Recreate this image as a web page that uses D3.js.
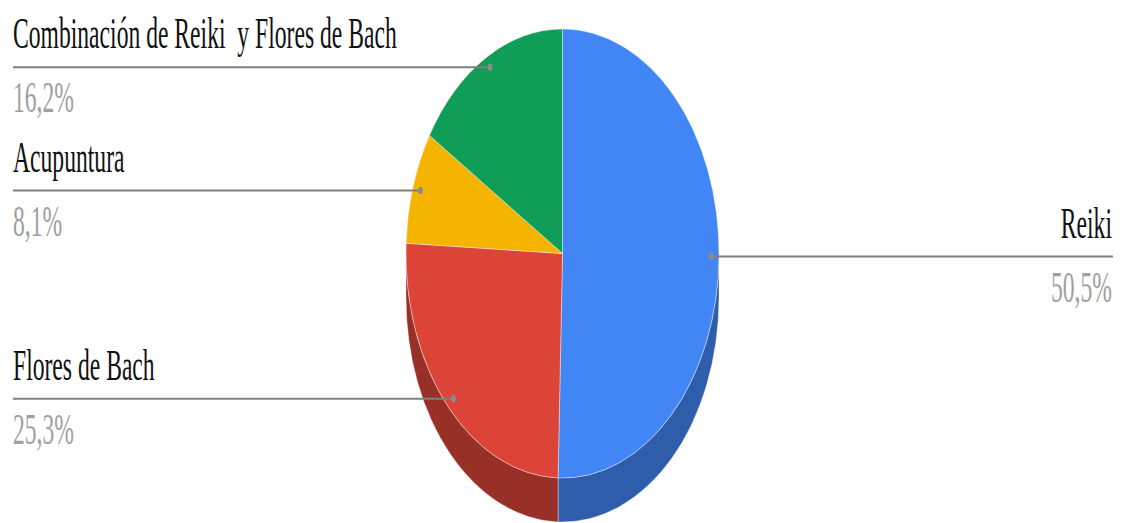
<!DOCTYPE html>
<html><head><meta charset="utf-8">
<script src="https://cdn.jsdelivr.net/npm/d3@7"></script>
<style>html,body{margin:0;padding:0;background:#fff;}svg{display:block;}</style>
</head><body>
<svg id="chart" width="1123" height="523"></svg>
<script>
const categories = ["Reiki", "Flores de Bach", "Acupuntura", "Combinación de Reiki  y Flores de Bach"];
const values = [50.5, 25.3, 8.1, 16.2];
const percentLabels = ["50,5%", "25,3%", "8,1%", "16,2%"];
const colors = ["#4285f4", "#db4437", "#f4b400", "#0f9d58"];

const W = 1123, H = 523;
const cx = 562.5, cy = 253.5, rx = 156.5, ry = 224.5, depth = 44;
const svg = d3.select("#chart");

const pie = d3.pie().sort(null).value(d => d).startAngle(0).endAngle(2 * Math.PI);
const arcs = pie(values).map((a, i) => ({...a, i}));

const pt = (a, dy = 0) => [cx + rx * Math.sin(a), cy - ry * Math.cos(a) + dy];
const darker = c => d3.rgb(c).darker(1).formatHex();

// sides
const g = svg.append("g");
arcs.forEach(a => {
  const s = Math.max(a.startAngle, Math.PI / 2), e = Math.min(a.endAngle, 3 * Math.PI / 2);
  if (e <= s) return;
  const p0 = pt(s), p1 = pt(e), q1 = pt(e, depth), q0 = pt(s, depth);
  const large = (e - s) > Math.PI ? 1 : 0;
  const path = `M${p0}A${rx},${ry} 0 ${large} 1 ${p1}L${q1}A${rx},${ry} 0 ${large} 0 ${q0}Z`;
  g.append("path").attr("d", path).attr("fill", darker(colors[a.i]))
    .attr("stroke", "rgba(255,255,255,0.45)").attr("stroke-width", 0.8);
});
// top faces
arcs.forEach(a => {
  const p0 = pt(a.startAngle), p1 = pt(a.endAngle);
  const large = (a.endAngle - a.startAngle) > Math.PI ? 1 : 0;
  const path = `M${cx},${cy}L${p0}A${rx},${ry} 0 ${large} 1 ${p1}Z`;
  g.append("path").attr("d", path).attr("fill", colors[a.i])
    .attr("stroke", "rgba(255,255,255,0.5)").attr("stroke-width", 0.8);
});

// labels
const sx = 0.537, fs = 44;
const leftX = 13, rightX = 1112;
arcs.forEach(a => {
  const mid = (a.startAngle + a.endAngle) / 2;
  const [dx, dy] = [cx + rx * 0.95 * Math.sin(mid), cy - ry * 0.95 * Math.cos(mid)];
  const right = Math.sin(mid) > 0;
  const x0 = right ? dx : leftX, x1 = right ? rightX + 1 : dx;
  svg.append("line").attr("x1", x0).attr("x2", x1).attr("y1", dy).attr("y2", dy)
    .attr("stroke", "#7f7f7f").attr("stroke-width", 2);
  svg.append("ellipse").attr("cx", dx).attr("cy", dy).attr("rx", 2.4).attr("ry", 3.8).attr("fill", "#8a8a8a");
  const tx = right ? rightX : leftX;
  const anchor = right ? "end" : "start";
  svg.append("text").attr("transform", `translate(${tx},${dy - 19}) scale(${sx},1)`)
    .attr("text-anchor", anchor).style("white-space", "pre")
    .style("font-family", '"Liberation Serif"').style("font-size", fs + "px")
    .attr("fill", "#111").text(categories[a.i]);
  svg.append("text").attr("transform", `translate(${tx},${dy + 45}) scale(${sx},1)`)
    .attr("text-anchor", anchor)
    .style("font-family", '"Liberation Serif"').style("font-size", fs + "px")
    .attr("fill", "#a0a0a0").text(percentLabels[a.i]);
});
</script>
</body></html>
